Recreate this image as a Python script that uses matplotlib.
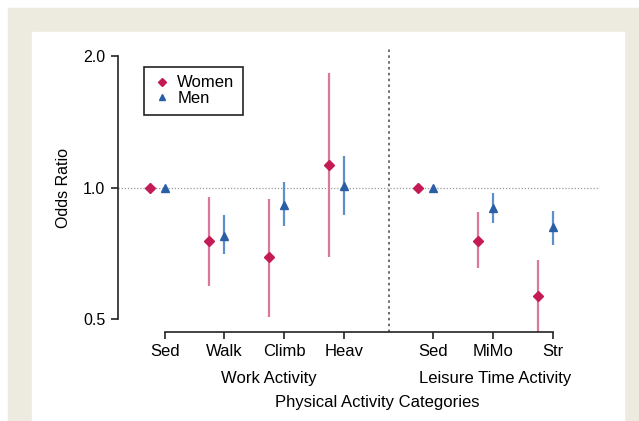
import matplotlib.pyplot as plt
from matplotlib.patches import Rectangle
from matplotlib.ticker import NullLocator

plt.rcParams['font.family'] = ['Liberation Sans', 'DejaVu Sans']

# categories
cats = ["Sed", "Walk", "Climb", "Heav", "Sed", "MiMo", "Str"]
xpos = [1, 2, 3, 4, 5.5, 6.5, 7.5]

# odds ratios with 95% CI
women_or = [1.0, 0.756, 0.695, 1.129, 1.0, 0.756, 0.566]
women_lo = [1.0, 0.596, 0.507, 0.695, 1.0, 0.656, 0.40]
women_hi = [1.0, 0.954, 0.944, 1.834, 1.0, 0.881, 0.684]

men_or = [1.0, 0.776, 0.914, 1.011, 1.0, 0.900, 0.814]
men_lo = [1.0, 0.706, 0.819, 0.867, 1.0, 0.832, 0.740]
men_hi = [1.0, 0.867, 1.032, 1.184, 1.0, 0.974, 0.886]

w_col, w_line = "#c41a55", "#d9789c"
m_col, m_line = "#2a5fa6", "#5f8fca"

fig = plt.figure(figsize=(6.39, 4.21), dpi=100)
W, H = 639, 421
fig.patches.append(Rectangle((8 / W, 0), 1 - 8 / W, 1 - 8 / H, transform=fig.transFigure,
                             color="#edeae0", zorder=-10))
fig.patches.append(Rectangle((32 / W, 0), (624 - 32) / W, 1 - 32 / H, transform=fig.transFigure,
                             color="white", zorder=-9))

ax = fig.add_axes([118 / W, (H - 332) / H, (600 - 118) / W, (332 - 48) / H])
ax.patch.set_alpha(0)

wx = [x - 0.25 for x in xpos]
ax.vlines(wx, women_lo, women_hi, color=w_line, lw=1.6, zorder=2)
ax.vlines(xpos, men_lo, men_hi, color=m_line, lw=1.6, zorder=2)
ax.plot(wx, women_or, "D", color=w_col, ms=5, ls="none", label="Women", zorder=3)
ax.plot(xpos, men_or, "^", color=m_col, ms=6, ls="none", label="Men", zorder=3)

ax.axhline(1.0, color="#9a9a9a", lw=0.9, ls=(0, (1, 1.5)), zorder=1)
ax.axvline(4.75, color="#555555", lw=1.2, ls=(0, (1.5, 2)), zorder=1)

ax.set_yscale("log")
ax.set_ylim(0.468, 2.09)
ax.set_xlim(0.218, 8.29)
ax.set_yticks([0.5, 1.0, 2.0])
ax.set_yticklabels(["0.5", "1.0", "2.0"])
ax.yaxis.set_minor_locator(NullLocator())
ax.set_xticks(xpos)
ax.set_xticklabels(cats)

for s in ["top", "right"]:
    ax.spines[s].set_visible(False)
ax.spines["left"].set_bounds(0.5, 2.0)
ax.spines["bottom"].set_bounds(1, 7.5)
for s in ["left", "bottom"]:
    ax.spines[s].set_linewidth(1.2)
    ax.spines[s].set_color("#222222")
ax.tick_params(length=5, width=1.2, color="#222222", pad=4)
ax.tick_params(axis="x", labelsize=12)
ax.tick_params(axis="y", labelsize=11.5)

ax.text(-0.114, 0.507, "Odds Ratio", transform=ax.transAxes, rotation=90,
        ha="center", va="center", fontsize=11.5)
tr = ax.get_xaxis_transform()
ax.text(2.75, -0.162, "Work Activity", transform=tr, ha="center", va="center", fontsize=12)
ax.text(6.53, -0.162, "Leisure Time Activity", transform=tr, ha="center", va="center", fontsize=12)
ax.text(4.556, -0.25, "Physical Activity Categories", transform=tr, ha="center", va="center", fontsize=12)

leg = ax.legend(loc="upper left", bbox_to_anchor=(0.054, 0.933), borderaxespad=0,
                fontsize=12, handletextpad=0.4, handlelength=1.1, markerscale=0.8,
                fancybox=False, framealpha=1, borderpad=0.5, labelspacing=0.05)
leg.get_frame().set_edgecolor("#222222")
leg.get_frame().set_linewidth(1.2)

plt.savefig("out.png", dpi=100)
